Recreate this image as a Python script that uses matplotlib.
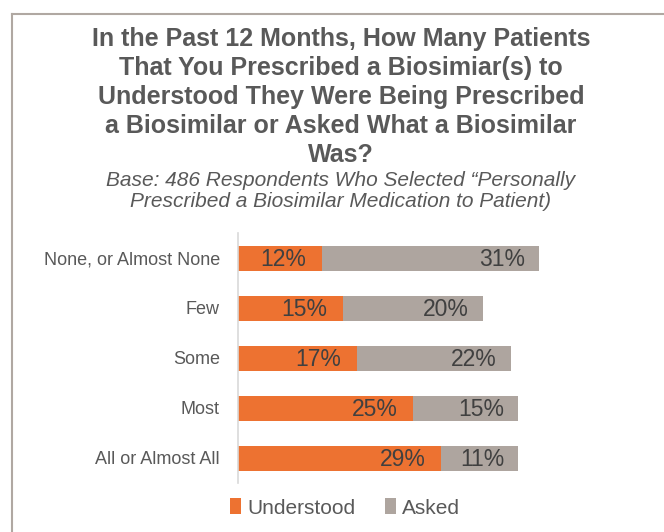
import matplotlib
matplotlib.use("Agg")
import matplotlib.pyplot as plt
from matplotlib import font_manager
from matplotlib.lines import Line2D

categories = ["None, or Almost None", "Few", "Some", "Most", "All or Almost All"]
understood = [12, 15, 17, 25, 29]
asked = [31, 20, 22, 15, 11]
series_names = ["Understood", "Asked"]

title = ("In the Past 12 Months, How Many Patients\n"
         "That You Prescribed a Biosimiar(s) to\n"
         "Understood They Were Being Prescribed\n"
         "a Biosimilar or Asked What a Biosimilar\n"
         "Was?")
subtitle = ("Base: 486 Respondents Who Selected \u201cPersonally\n"
            "Prescribed a Biosimilar Medication to Patient)")

ORANGE = "#ED7231"
GRAY = "#AEA59F"
TEXT = "#595959"
DARK = "#404040"

names = {f.name for f in font_manager.fontManager.ttflist}
narrow = "Liberation Sans Narrow" if "Liberation Sans Narrow" in names else "Liberation Sans"
regular = "Liberation Sans"

W, H = 664, 532
fig = plt.figure(figsize=(W / 100, H / 100), dpi=100)

# frame border (top and left visible)
fig.add_artist(Line2D([12 / W, 12 / W], [0, 1 - 14 / H], transform=fig.transFigure,
                      color="#B0A8A2", lw=1.5))
fig.add_artist(Line2D([12 / W, 1], [1 - 14 / H, 1 - 14 / H], transform=fig.transFigure,
                      color="#B0A8A2", lw=1.5))

fig.text(341 / W, 1 - 27 / H, title, ha="center", va="top", fontsize=18,
         fontweight="bold", family=regular, color=TEXT, linespacing=1.26)
fig.text(341 / W, 1 - 171 / H, subtitle, ha="center", va="top", fontsize=15,
         style="italic", family=regular, color=TEXT, linespacing=1.14)

ax_left, ax_right = 238, 658
ax_top, ax_bot = 233, 483
ax = fig.add_axes([ax_left / W, 1 - ax_bot / H, (ax_right - ax_left) / W, (ax_bot - ax_top) / H])
xmax = (ax_right - ax_left) / 7.0
ax.set_xlim(0, xmax)
ax.set_ylim(len(categories) - 0.5, -0.5)

ypos = list(range(len(categories)))
b1 = ax.barh(ypos, understood, height=0.5, color=ORANGE, label=series_names[0])
b2 = ax.barh(ypos, asked, left=understood, height=0.5, color=GRAY, label=series_names[1])

for y, u, a in zip(ypos, understood, asked):
    ax.text(u - 2.2, y + 0.03, f"{u}%", ha="right", va="center", fontsize=16.5,
            family=narrow, color=DARK)
    ax.text(u + a - 2.0, y + 0.03, f"{a}%", ha="right", va="center", fontsize=16.5,
            family=narrow, color=DARK)

ax.set_yticks(ypos)
ax.set_yticklabels(categories, fontsize=13, family=narrow, color=TEXT)
ax.tick_params(axis="y", length=0, pad=13)
ax.set_xticks([])
for s in ["top", "right", "bottom"]:
    ax.spines[s].set_visible(False)
ax.spines["left"].set_color("#D9D9D9")
ax.spines["left"].set_linewidth(1.2)

leg = fig.legend(handles=[b1, b2], loc="center", bbox_to_anchor=(345 / W, 1 - 508 / H),
                 ncol=2, frameon=False, handlelength=0.55, handleheight=0.8,
                 handletextpad=0.3, columnspacing=1.4, prop={"family": narrow, "size": 15})
for t in leg.get_texts():
    t.set_color(TEXT)

fig.savefig("out.png", dpi=100)
